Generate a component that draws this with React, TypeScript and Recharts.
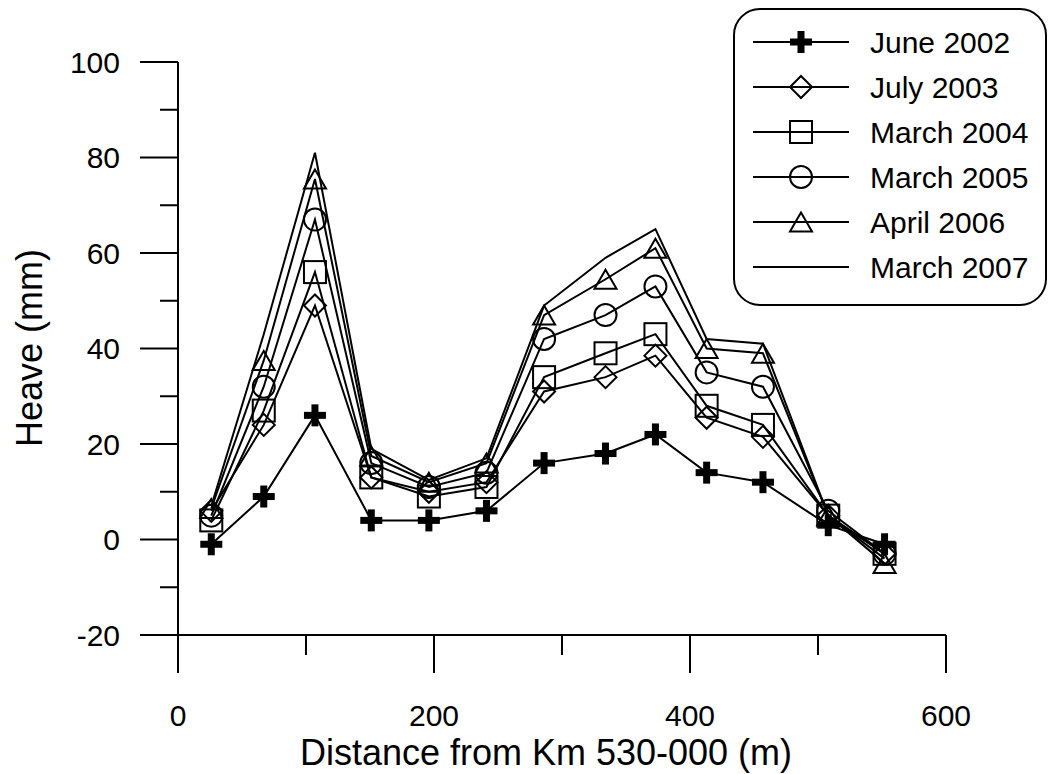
import React from "react";
import { LineChart, Line, XAxis, YAxis, Legend, Label } from "recharts";

// distance along the line (m)
const distances = [26, 67, 107, 151, 196, 241, 286, 334, 373, 413, 457, 508, 552];

// heave readings (mm) per survey
const june2002 = [-1, 9, 26, 4, 4, 6, 16, 18, 22, 14, 12, 3, -1];
const july2003 = [6, 24, 49, 13, 10, 12, 31, 34, 38.5, 25.5, 21.5, 5, -3];
const march2004 = [4, 27, 56, 13, 9, 11, 34, 39, 43, 28, 24, 5, -3];
const march2005 = [5, 32, 67, 16, 11, 14, 42, 47, 53, 35, 32, 6, -3];
const april2006 = [6.5, 37.5, 75.5, 17.5, 12, 16, 47, 54.5, 61, 40, 39, 5, -5];
const march2007 = [7, 43, 81, 19, 12.5, 17, 49, 59, 65, 42, 41, 5, -4];

const seriesNames = ["June 2002", "July 2003", "March 2004", "March 2005", "April 2006", "March 2007"];
const seriesValues = [june2002, july2003, march2004, march2005, april2006, march2007];
const seriesMarkers = ["cross", "diamond", "square", "circle", "triangle", "none"];

const xTicks = [0, 100, 200, 300, 400, 500, 600];
const yTicks = [-20, -10, 0, 10, 20, 30, 40, 50, 60, 70, 80, 90, 100];

const FONT = "'Liberation Sans', Arial, sans-serif";

const data = distances.map((d, i) => {
  const row: Record<string, number> = { x: d };
  seriesValues.forEach((vals, s) => {
    row[`s${s}`] = vals[i];
  });
  return row;
});

function Marker({ kind, cx, cy }: { kind: string; cx: number; cy: number }) {
  const s = 11;
  if (kind === "cross") {
    return (
      <g>
        <rect x={cx - s} y={cy - 3.5} width={2 * s} height={7} fill="#000" />
        <rect x={cx - 3.5} y={cy - s} width={7} height={2 * s} fill="#000" />
      </g>
    );
  }
  const common = { fill: "none", stroke: "#000", strokeWidth: 2 };
  if (kind === "diamond") {
    return <polygon points={`${cx},${cy - s} ${cx + s},${cy} ${cx},${cy + s} ${cx - s},${cy}`} {...common} />;
  }
  if (kind === "square") {
    return <rect x={cx - s} y={cy - s} width={2 * s} height={2 * s} {...common} />;
  }
  if (kind === "circle") {
    return <circle cx={cx} cy={cy} r={s} {...common} />;
  }
  if (kind === "triangle") {
    return <polygon points={`${cx},${cy - 9.5} ${cx + s},${cy + 9.5} ${cx - s},${cy + 9.5}`} {...common} />;
  }
  return null;
}

const XTick = (props: any) => {
  const { x, y, payload } = props;
  const major = payload.value % 200 === 0;
  return (
    <g>
      <line x1={x} y1={y} x2={x} y2={y + (major ? 38 : 20)} stroke="#000" strokeWidth={2} />
      {major && (
        <text x={x} y={y + 91} textAnchor="middle" fontSize={30} fontFamily={FONT} fill="#000">
          {payload.value}
        </text>
      )}
    </g>
  );
};

const YTick = (props: any) => {
  const { x, y, payload } = props;
  const major = payload.value % 20 === 0;
  return (
    <g>
      <line x1={x} y1={y} x2={x - (major ? 38 : 18)} y2={y} stroke="#000" strokeWidth={2} />
      {major && (
        <text x={x - 58} y={y + 10.5} textAnchor="end" fontSize={30} fontFamily={FONT} fill="#000">
          {payload.value}
        </text>
      )}
    </g>
  );
};

const renderLegend = () => (
  <svg width={316} height={300}>
    <rect x={1} y={1} width={312} height={296} rx={26} ry={26} fill="#fff" stroke="#000" strokeWidth={2} />
    {seriesNames.map((name, i) => {
      const cy = 34 + i * 45;
      return (
        <g key={name}>
          <line x1={20} y1={cy} x2={116} y2={cy} stroke="#000" strokeWidth={2} />
          <Marker kind={seriesMarkers[i]} cx={68} cy={cy} />
          <text x={137} y={cy + 10.5} fontSize={30} fontFamily={FONT} fill="#000">
            {name}
          </text>
        </g>
      );
    })}
  </svg>
);

export default function App() {
  return (
    <div style={{ position: "absolute", left: 0, top: 0, width: 1049, height: 774, background: "#fff" }}>
      <LineChart width={1049} height={774} data={data} margin={{ top: 62, right: 103, bottom: 0, left: 0 }}>
        <XAxis
          dataKey="x"
          type="number"
          domain={[0, 600]}
          ticks={xTicks}
          interval={0}
          height={139}
          tickSize={0}
          tickMargin={0}
          tickLine={false}
          tick={XTick}
          axisLine={{ stroke: "#000", strokeWidth: 2 }}
        >
          <Label
            content={() => (
              <text x={546} y={765} textAnchor="middle" fontSize={36} fontFamily={FONT} fill="#000">
                Distance from Km 530-000 (m)
              </text>
            )}
          />
        </XAxis>
        <YAxis
          type="number"
          domain={[-20, 100]}
          ticks={yTicks}
          interval={0}
          width={178}
          tickSize={0}
          tickMargin={0}
          tickLine={false}
          tick={YTick}
          axisLine={{ stroke: "#000", strokeWidth: 2 }}
        >
          <Label
            content={() => (
              <text
                x={42}
                y={348}
                transform="rotate(-90, 42, 348)"
                textAnchor="middle"
                fontSize={36}
                fontFamily={FONT}
                fill="#000"
              >
                Heave (mm)
              </text>
            )}
          />
        </YAxis>
        <Legend
          layout="horizontal"
          verticalAlign="middle"
          align="center"
          content={renderLegend}
          wrapperStyle={{ position: "absolute", left: 733, top: 8, width: 316, height: 300 }}
        />
        {seriesNames.map((name, s) => (
          <Line
            key={name}
            name={name}
            dataKey={`s${s}`}
            type="linear"
            stroke="#000"
            strokeWidth={2}
            isAnimationActive={false}
            activeDot={false}
            dot={
              seriesMarkers[s] === "none"
                ? false
                : (p: any) => <Marker key={`${s}-${p.index}`} kind={seriesMarkers[s]} cx={p.cx} cy={p.cy} />
            }
          />
        ))}
      </LineChart>
    </div>
  );
}
